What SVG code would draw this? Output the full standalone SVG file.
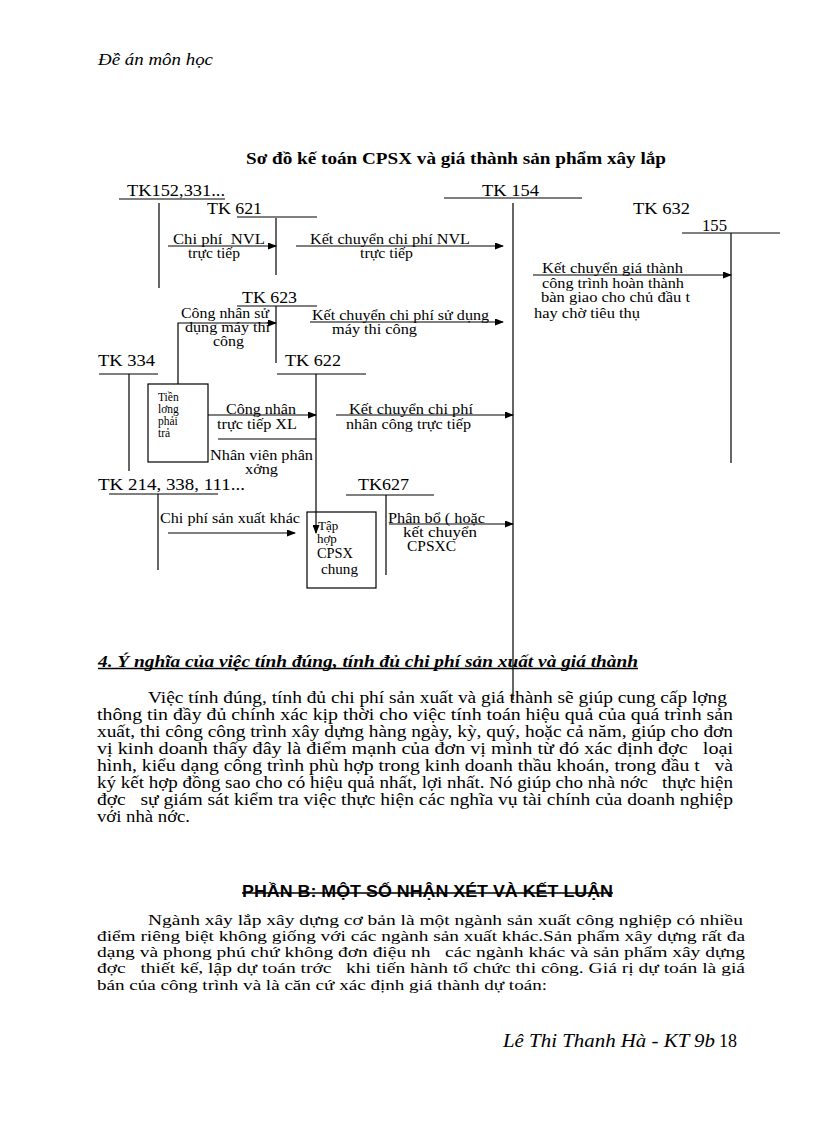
<svg xmlns="http://www.w3.org/2000/svg" width="816" height="1123" viewBox="0 0 816 1123" xml:space="preserve">
<defs>
<marker id="ah" markerUnits="userSpaceOnUse" markerWidth="9" markerHeight="7" refX="8" refY="3.5" orient="auto"><path d="M0,0 L9,3.5 L0,7 z" fill="#000"/></marker>
</defs>
<style>
text{white-space:pre}
.ln{stroke:#000;stroke-width:1.2;fill:none}
.ar{stroke:#000;stroke-width:1.2;fill:none;marker-end:url(#ah)}
.bx{stroke:#000;stroke-width:1.2;fill:#fff}
.tk{font-family:"Liberation Serif",serif;font-size:17px;fill:#000}
.lb{font-family:"Liberation Serif",serif;font-size:14.5px;fill:#000}
.bl{font-family:"Liberation Serif",serif;font-size:13px;fill:#000}
.sm{font-family:"Liberation Serif",serif;font-size:11.5px;fill:#000}
.bd{font-family:"Liberation Serif",serif;font-size:16px;fill:#000}
.bd2{font-family:"Liberation Serif",serif;font-size:15.5px;fill:#000}
</style>
<rect width="816" height="1123" fill="#fff"/>
<g id="header"><text x="98" y="65" font-family="Liberation Serif,serif" font-style="italic" font-size="17" textLength="115" lengthAdjust="spacingAndGlyphs">Đề án môn học</text></g>
<g id="title"><text x="246" y="164" font-family="Liberation Serif,serif" font-weight="bold" font-size="17.5" textLength="420" lengthAdjust="spacingAndGlyphs">Sơ đồ kế toán CPSX và giá thành sản phẩm xây lắp</text></g>
<g id="tk152">
<text class="tk" x="127" y="196" textLength="98" lengthAdjust="spacingAndGlyphs">TK152,331...</text>
<line class="ln" x1="119" y1="199" x2="225" y2="199"/>
<line class="ln" x1="159" y1="203" x2="159" y2="288"/>
</g>
<g id="tk621">
<text class="tk" x="207" y="214" textLength="55" lengthAdjust="spacingAndGlyphs">TK 621</text>
<line class="ln" x1="237" y1="217" x2="317" y2="217"/>
<line class="ln" x1="276" y1="218" x2="276" y2="275"/>
</g>
<g id="tk154">
<text class="tk" x="482" y="196" textLength="57" lengthAdjust="spacingAndGlyphs">TK 154</text>
<line class="ln" x1="444" y1="198" x2="582" y2="198"/>
<line class="ln" x1="513" y1="203" x2="513" y2="700"/>
</g>
<g id="tk632">
<text class="tk" x="633" y="214" textLength="57" lengthAdjust="spacingAndGlyphs">TK 632</text>
<text class="tk" x="702" y="231" textLength="25" lengthAdjust="spacingAndGlyphs">155</text>
<line class="ln" x1="682" y1="233" x2="780" y2="233"/>
<line class="ln" x1="731" y1="233" x2="731" y2="463"/>
</g>
<g id="tk623">
<text class="tk" x="242" y="303" textLength="55" lengthAdjust="spacingAndGlyphs">TK 623</text>
<line class="ln" x1="237" y1="306" x2="317" y2="306"/>
<line class="ln" x1="276" y1="306" x2="276" y2="363"/>
</g>
<g id="tk334">
<text class="tk" x="98" y="366" textLength="57" lengthAdjust="spacingAndGlyphs">TK 334</text>
<line class="ln" x1="99" y1="374" x2="158" y2="374"/>
<line class="ln" x1="129" y1="374" x2="129" y2="471"/>
</g>
<g id="tk622">
<text class="tk" x="285" y="366" textLength="56" lengthAdjust="spacingAndGlyphs">TK 622</text>
<line class="ln" x1="277" y1="374" x2="366" y2="374"/>
</g>
<g id="box-tienluong">
<rect class="bx" x="148" y="384" width="60" height="78"/>
<text class="sm" x="158" y="401">Tiền</text>
<text class="sm" x="158" y="413">lơng</text>
<text class="sm" x="158" y="425">phải</text>
<text class="sm" x="158" y="437">trả</text>
</g>
<g id="tk214">
<text class="tk" x="98" y="490" textLength="147" lengthAdjust="spacingAndGlyphs">TK 214, 338, 111...</text>
<line class="ln" x1="109" y1="494" x2="218" y2="494"/>
<line class="ln" x1="158" y1="494" x2="158" y2="570"/>
</g>
<g id="tk627">
<text class="tk" x="358" y="490" textLength="51" lengthAdjust="spacingAndGlyphs">TK627</text>
<line class="ln" x1="346" y1="495" x2="434" y2="495"/>
<line class="ln" x1="386" y1="495" x2="386" y2="575"/>
</g>
<g id="box-taphop">
<rect class="bx" x="307" y="512" width="69" height="76"/>
<text class="bl" x="318" y="530">Tập</text>
<text class="bl" x="317" y="543">hợp</text>
<text class="lb" x="317" y="558" textLength="36" lengthAdjust="spacingAndGlyphs">CPSX</text>
<text class="lb" x="321" y="574" textLength="37" lengthAdjust="spacingAndGlyphs">chung</text>
</g>
<g id="connectors">
<line class="ar" x1="168" y1="246" x2="276" y2="246"/>
<text class="lb" x="173" y="244" textLength="92" lengthAdjust="spacingAndGlyphs">Chi phí  NVL</text>
<text class="lb" x="188" y="258" textLength="52" lengthAdjust="spacingAndGlyphs">trực tiếp</text>
<line class="ar" x1="296" y1="246" x2="503" y2="246"/>
<text class="lb" x="310" y="244" textLength="160" lengthAdjust="spacingAndGlyphs">Kết chuyển chi phí NVL</text>
<text class="lb" x="360" y="258" textLength="53" lengthAdjust="spacingAndGlyphs">trực tiếp</text>
<line class="ar" x1="533" y1="275" x2="731" y2="275"/>
<text class="lb" x="542" y="273" textLength="141" lengthAdjust="spacingAndGlyphs">Kết chuyển giá thành</text>
<text class="lb" x="542" y="288" textLength="142" lengthAdjust="spacingAndGlyphs">công trình hoàn thành</text>
<text class="lb" x="541" y="302" textLength="149" lengthAdjust="spacingAndGlyphs">bàn giao cho chủ đầu t</text>
<text class="lb" x="534" y="318" textLength="106" lengthAdjust="spacingAndGlyphs">hay chờ tiêu thụ</text>
<polyline class="ar" points="178,384 178,323 276,323"/>
<text class="lb" x="181" y="318" textLength="88" lengthAdjust="spacingAndGlyphs">Công nhân sử</text>
<text class="lb" x="185" y="332" textLength="85" lengthAdjust="spacingAndGlyphs">dụng máy thi</text>
<text class="lb" x="213" y="346" textLength="31" lengthAdjust="spacingAndGlyphs">công</text>
<line class="ar" x1="310" y1="322" x2="503" y2="322"/>
<text class="lb" x="312" y="320" textLength="177" lengthAdjust="spacingAndGlyphs">Kết chuyển chi phí sử dụng</text>
<text class="lb" x="332" y="334" textLength="85" lengthAdjust="spacingAndGlyphs">máy thi công</text>
<line class="ar" x1="208" y1="415" x2="316" y2="415"/>
<text class="lb" x="226" y="414" textLength="70" lengthAdjust="spacingAndGlyphs">Công nhân</text>
<text class="lb" x="217" y="429" textLength="80" lengthAdjust="spacingAndGlyphs">trực tiếp XL</text>
<line class="ln" x1="218" y1="439" x2="316" y2="439"/>
<text class="lb" x="210" y="460" textLength="103" lengthAdjust="spacingAndGlyphs">Nhân viên phân</text>
<text class="lb" x="245" y="474" textLength="33" lengthAdjust="spacingAndGlyphs">xởng</text>
<line class="ar" x1="316" y1="374" x2="316" y2="533"/>
<line class="ar" x1="336" y1="415" x2="513" y2="415"/>
<text class="lb" x="349" y="414" textLength="124" lengthAdjust="spacingAndGlyphs">Kết chuyển chi phí</text>
<text class="lb" x="346" y="429" textLength="125" lengthAdjust="spacingAndGlyphs">nhân công trực tiếp</text>
<line class="ar" x1="168" y1="533" x2="295" y2="533"/>
<text class="lb" x="160" y="523" textLength="140" lengthAdjust="spacingAndGlyphs">Chi phí sản xuất khác</text>
<line class="ar" x1="389" y1="524" x2="513" y2="524"/>
<text class="lb" x="388" y="523" textLength="97" lengthAdjust="spacingAndGlyphs">Phân bổ ( hoặc</text>
<text class="lb" x="403" y="537" textLength="74" lengthAdjust="spacingAndGlyphs">kết chuyển</text>
<text class="lb" x="407" y="551" textLength="49" lengthAdjust="spacingAndGlyphs">CPSXC</text>
</g>
<g id="section4">
<text x="98" y="667" font-family="Liberation Serif,serif" font-weight="bold" font-style="italic" font-size="16" textLength="540" lengthAdjust="spacingAndGlyphs">4. Ý nghĩa của việc tính đúng, tính đủ chi phí sản xuất và giá thành</text>
<line x1="98" y1="668.5" x2="638" y2="668.5" stroke="#000" stroke-width="1.3"/>
<text class="bd" x="148" y="703" textLength="579" lengthAdjust="spacingAndGlyphs">Việc tính đúng, tính đủ chi phí sản xuất và giá thành sẽ giúp cung cấp lợng</text>
<text class="bd" x="97" y="720" textLength="636" lengthAdjust="spacingAndGlyphs">thông tin đầy đủ chính xác kịp thời cho việc tính toán hiệu quả của quá trình sản</text>
<text class="bd" x="97" y="737" textLength="636" lengthAdjust="spacingAndGlyphs">xuất, thi công công trình xây dựng hàng ngày, kỳ, quý, hoặc cả năm, giúp cho đơn</text>
<text class="bd" x="97" y="754" textLength="636" lengthAdjust="spacingAndGlyphs">vị kinh doanh thấy đây là điểm mạnh của đơn vị mình từ đó xác định đợc   loại</text>
<text class="bd" x="97" y="771" textLength="636" lengthAdjust="spacingAndGlyphs">hình, kiểu dạng công trình phù hợp trong kinh doanh thầu khoán, trong đầu t   và</text>
<text class="bd" x="97" y="788" textLength="636" lengthAdjust="spacingAndGlyphs">ký kết hợp đồng sao cho có hiệu quả nhất, lợi nhất. Nó giúp cho nhà nớc   thực hiện</text>
<text class="bd" x="97" y="805" textLength="636" lengthAdjust="spacingAndGlyphs">đợc   sự giám sát kiểm tra việc thực hiện các nghĩa vụ tài chính của doanh nghiệp</text>
<text class="bd" x="97" y="822" textLength="93" lengthAdjust="spacingAndGlyphs">với nhà nớc.</text>
</g>
<g id="partB">
<text x="242" y="897" font-family="Liberation Sans,sans-serif" font-weight="bold" font-size="17" textLength="371" lengthAdjust="spacingAndGlyphs">PHẦN B: MỘT SỐ NHẬN XÉT VÀ KẾT LUẬN</text>
<line x1="242" y1="893" x2="613" y2="893" stroke="#000" stroke-width="1.3"/>
<text class="bd2" x="148" y="925" textLength="595" lengthAdjust="spacingAndGlyphs">Ngành xây lắp xây dựng cơ bản là một ngành sản xuất công nghiệp có nhiều</text>
<text class="bd2" x="97" y="941" textLength="648" lengthAdjust="spacingAndGlyphs">điểm riêng biệt không giống với các ngành sản xuất khác.Sản phẩm xây dựng rất đa</text>
<text class="bd2" x="97" y="957" textLength="648" lengthAdjust="spacingAndGlyphs">dạng và phong phú chứ không đơn điệu nh   các ngành khác và sản phẩm xây dựng</text>
<text class="bd2" x="97" y="973" textLength="648" lengthAdjust="spacingAndGlyphs">đợc   thiết kế, lập dự toán trớc   khi tiến hành tổ chức thi công. Giá rị dự toán là giá</text>
<text class="bd2" x="97" y="990" textLength="450" lengthAdjust="spacingAndGlyphs">bán của công trình và là căn cứ xác định giá thành dự toán:</text>
</g>
<g id="footer">
<text x="503" y="1047" font-family="Liberation Serif,serif" font-style="italic" font-size="18" textLength="212" lengthAdjust="spacingAndGlyphs">Lê Thi Thanh Hà - KT 9b</text>
<text x="719" y="1047" font-family="Liberation Serif,serif" font-size="18" textLength="18" lengthAdjust="spacingAndGlyphs">18</text>
</g>
</svg>
